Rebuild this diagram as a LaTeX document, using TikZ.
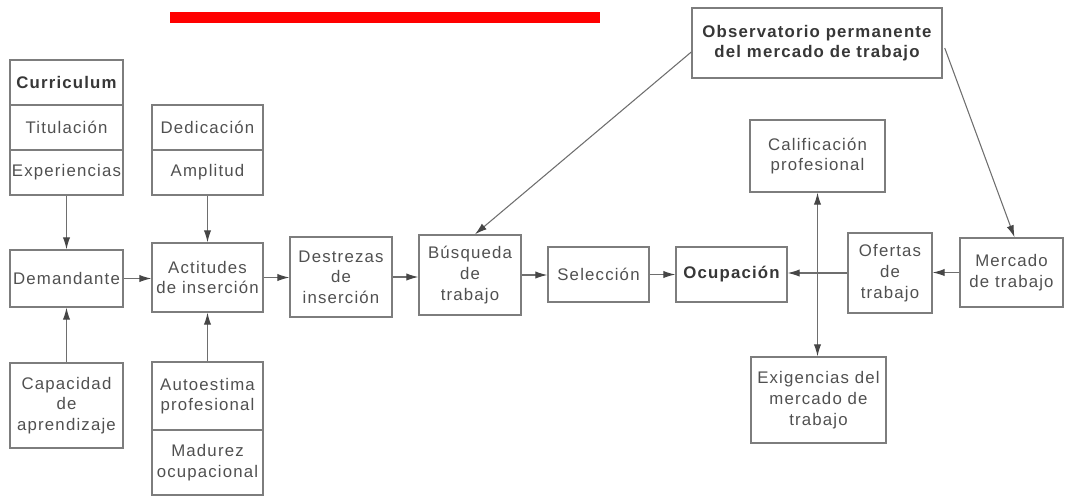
\documentclass[tikz,border=0pt]{standalone}
\usepackage{fontspec}
\setmainfont{Liberation Sans}[LetterSpace=7]
\usetikzlibrary{arrows.meta,calc}
\definecolor{boxline}{RGB}{125,125,125}
\definecolor{txt}{RGB}{80,80,80}
\definecolor{lin}{RGB}{110,110,110}
\definecolor{tipc}{RGB}{70,70,70}
\definecolor{redbar}{RGB}{255,0,0}
\tikzset{
  box/.style={draw=boxline, line width=1.1pt, align=center, inner sep=1pt,
    text=txt, font=\fontsize{12.6}{15.5}\selectfont},
  bbox/.style={box, font=\fontsize{12.6}{15.5}\selectfont\bfseries, text={rgb,255:red,55;green,55;blue,55}},
  wd/.style={minimum width=#1*0.75pt},
  ht/.style={minimum height=#1*0.75pt},
  arr/.style={draw=lin, line width=0.8pt, -{Latex[length=9pt,width=5.5pt,color=tipc]}},
  darr/.style={draw=lin, line width=0.8pt, {Latex[length=9pt,width=5.5pt,color=tipc]}-{Latex[length=9pt,width=5.5pt,color=tipc]}}
}
\begin{document}
\begin{tikzpicture}[x=0.75pt,y=-0.75pt]
\useasboundingbox (0,0) rectangle (1067,497);
\fill[redbar] (170,12) rectangle (600,23);
% left stacks
\node[bbox, wd=113, ht=45] (cur) at (66.5,82.5) {Curriculum};
\node[box, wd=113, ht=45] (tit) at (66.5,127.5) {Titulación};
\node[box, wd=113, ht=45] (exp) at (66.5,172.5) {Experiencias};
\node[box, wd=111, ht=45] (ded) at (207.5,127.5) {Dedicación};
\node[box, wd=111, ht=45] (amp) at (207.5,172.5) {Amplitud};
% main row
\node[box, wd=113, ht=57] (dem) at (66.5,278.5) {Demandante};
\node[box, wd=111, ht=69] (act) at (207.5,277.5) {Actitudes\\de inserción};
\node[box, wd=102, ht=80] (des) at (341,277) {Destrezas\\de\\inserción};
\node[box, wd=102, ht=80] (bus) at (470,275) {Búsqueda\\de\\trabajo};
\node[box, wd=101, ht=55] (sel) at (598.5,274.5) {Selección};
\node[bbox, wd=111, ht=55] (ocu) at (731.5,274.5) {Ocupación};
\node[box, wd=84, ht=80] (ofe) at (890,273) {Ofertas\\de\\trabajo};
\node[box, wd=103, ht=69] (mer) at (1011.5,272.5) {Mercado\\de trabajo};
% bottom
\node[box, wd=113, ht=85] (cap) at (66.5,405.5) {Capacidad\\de\\aprendizaje};
\node[box, wd=111, ht=68] (aut) at (207.5,396) {Autoestima\\profesional};
\node[box, wd=111, ht=65] (mad) at (207.5,462.5) {Madurez\\ocupacional};
% right
\node[bbox, wd=250, ht=70] (obs) at (817,43) {Observatorio permanente\\del mercado de trabajo};
\node[box, wd=135, ht=72] (cal) at (817.5,156) {Calificación\\profesional};
\node[box, wd=135, ht=86] (exi) at (818.5,400) {Exigencias del\\mercado de\\trabajo};
% connectors
\draw[arr] (exp.south) -- (dem.north);
\draw[arr] (cap.north) -- (dem.south);
\draw[arr] (amp.south) -- (act.north);
\draw[arr] (aut.north) -- (act.south);
\draw[arr] (dem.east) -- (dem.east -| act.west);
\draw[arr] (act.east) -- (act.east -| des.west);
\draw[arr] (des.east) -- (des.east -| bus.west);
\draw[arr] (bus.east) -- (bus.east -| sel.west);
\draw[arr] (sel.east) -- (sel.east -| ocu.west);
\draw[arr] (ofe.west) -- (ofe.west -| ocu.east);
\draw[arr] (mer.west) -- (mer.west -| ofe.east);
\draw[arr] ($(obs.west)+(0,9)$) -- ($(bus.north)+(5,0)$);
\draw[arr] ($(obs.east)+(2,5)$) -- ($(mer.north)+(3,0)$);
\draw[darr] (cal.south) -- (cal.south |- exi.north);
\end{tikzpicture}
\end{document}
